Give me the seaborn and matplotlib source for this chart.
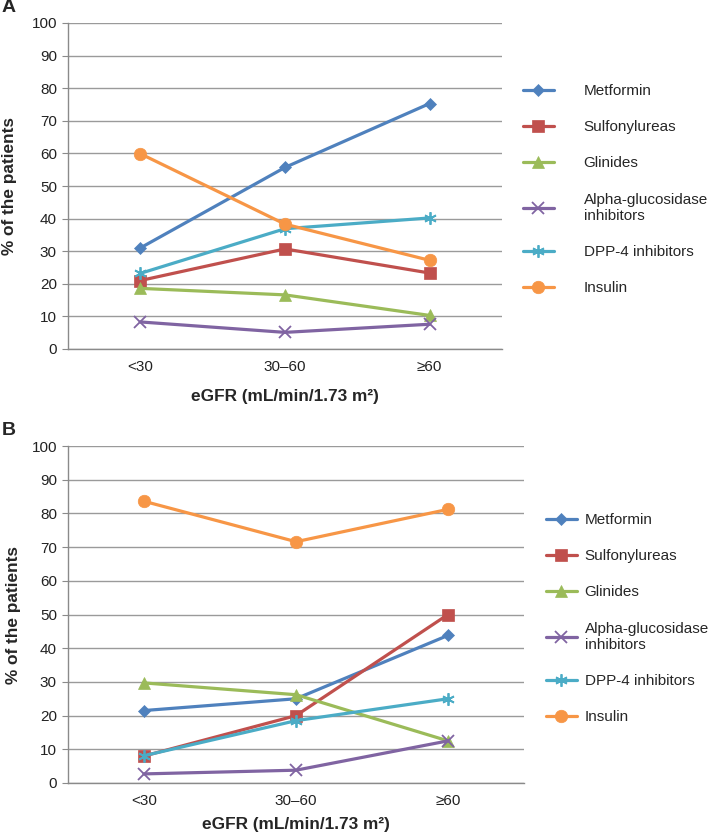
import matplotlib
matplotlib.use("Agg")
import matplotlib.pyplot as plt
import seaborn as sns

# eGFR groups
cats = ["<30", "30\u201360", "\u226560"]
drugs = ["Metformin", "Sulfonylureas", "Glinides", "Alpha-glucosidase\ninhibitors",
         "DPP-4 inhibitors", "Insulin"]

# panel A values (% of the patients)
a_metformin = [31.0, 55.7, 75.3]
a_sulfonyl = [21.0, 30.7, 23.3]
a_glinides = [18.6, 16.6, 10.3]
a_alpha = [8.3, 5.1, 7.6]
a_dpp4 = [23.2, 36.9, 40.2]
a_insulin = [59.9, 38.3, 27.2]

# panel B values
b_metformin = [21.5, 25.0, 43.8]
b_sulfonyl = [8.0, 20.0, 50.0]
b_glinides = [29.7, 26.2, 12.5]
b_alpha = [2.7, 3.8, 12.5]
b_dpp4 = [8.1, 18.5, 25.0]
b_insulin = [83.6, 71.6, 81.2]

colors = ["#4F81BD", "#C0504D", "#9BBB59", "#8064A2", "#4BACC6", "#F79646"]
markers = ["D", "s", "^", "x", (6, 2, 0), "o"]
msizes = [6, 9, 8, 8, 9, 9]

sns.set_style("white")
plt.rcParams["font.family"] = ["Liberation Sans", "DejaVu Sans"]

W, H = 709, 833
fig = plt.figure(figsize=(W / 100, H / 100), dpi=100)


def px_axes(left, top, right, bottom):
    return fig.add_axes([left / W, 1 - bottom / H, (right - left) / W, (bottom - top) / H])


def panel(ax, series, legend_x, legend_y, textpad, xlab_y, ylab_x):
    for vals, name, c, m, ms in zip(series, drugs, colors, markers, msizes):
        sns.lineplot(x=cats, y=vals, ax=ax, color=c, marker=m, markersize=ms,
                     markeredgecolor=c, markeredgewidth=1.3 if m in ("x", (6, 2, 0)) else 0.5,
                     linewidth=2.3, label=name, sort=False)
    ax.set_xlim(-0.5, 2.5)
    ax.set_ylim(0, 100)
    ax.set_yticks(range(0, 101, 10))
    ax.yaxis.grid(True, color="#9a9a9a", linewidth=1.0)
    ax.set_axisbelow(True)
    for s in ["top", "right"]:
        ax.spines[s].set_visible(False)
    for s in ["left", "bottom"]:
        ax.spines[s].set_color("#8a8a8a")
        ax.spines[s].set_linewidth(1.0)
    ax.set_xticks([-0.5, 0.5, 1.5, 2.5], minor=True)
    ax.tick_params(axis="x", which="major", length=0, pad=8, labelsize=11, labelcolor="#222222")
    ax.tick_params(axis="x", which="minor", length=5, color="#8a8a8a", direction="out")
    ax.tick_params(axis="y", length=4, color="#8a8a8a", left=True, pad=4, labelsize=11,
                   labelcolor="#222222")
    ax.set_xlabel("eGFR (mL/min/1.73 m\u00b2)", fontsize=12.4, fontweight="bold")
    ax.set_ylabel("% of the patients", fontsize=12.4, fontweight="bold")
    ax.xaxis.set_label_coords(0.5, xlab_y)
    ax.yaxis.set_label_coords(ylab_x, 0.5)
    ax.legend(loc="upper left", bbox_to_anchor=(legend_x / W, 1 - legend_y / H),
              bbox_transform=fig.transFigure, frameon=False, fontsize=11,
              handlelength=2.0, handletextpad=textpad, labelspacing=1.45, borderaxespad=0)


ax_a = px_axes(68, 23, 502, 349)
panel(ax_a, [a_metformin, a_sulfonyl, a_glinides, a_alpha, a_dpp4, a_insulin],
      517, 78, 1.96, -0.123, -0.1175)

ax_b = px_axes(68, 446, 524, 783)
panel(ax_b, [b_metformin, b_sulfonyl, b_glinides, b_alpha, b_dpp4, b_insulin],
      540, 507, 0.52, -0.101, -0.103)

fig.text(2 / W, 1 - 8 / H, "A", fontsize=14, fontweight="bold", va="center", ha="left")
fig.text(2 / W, 1 - 431 / H, "B", fontsize=14, fontweight="bold", va="center", ha="left")

fig.savefig("out.png", dpi=100)
